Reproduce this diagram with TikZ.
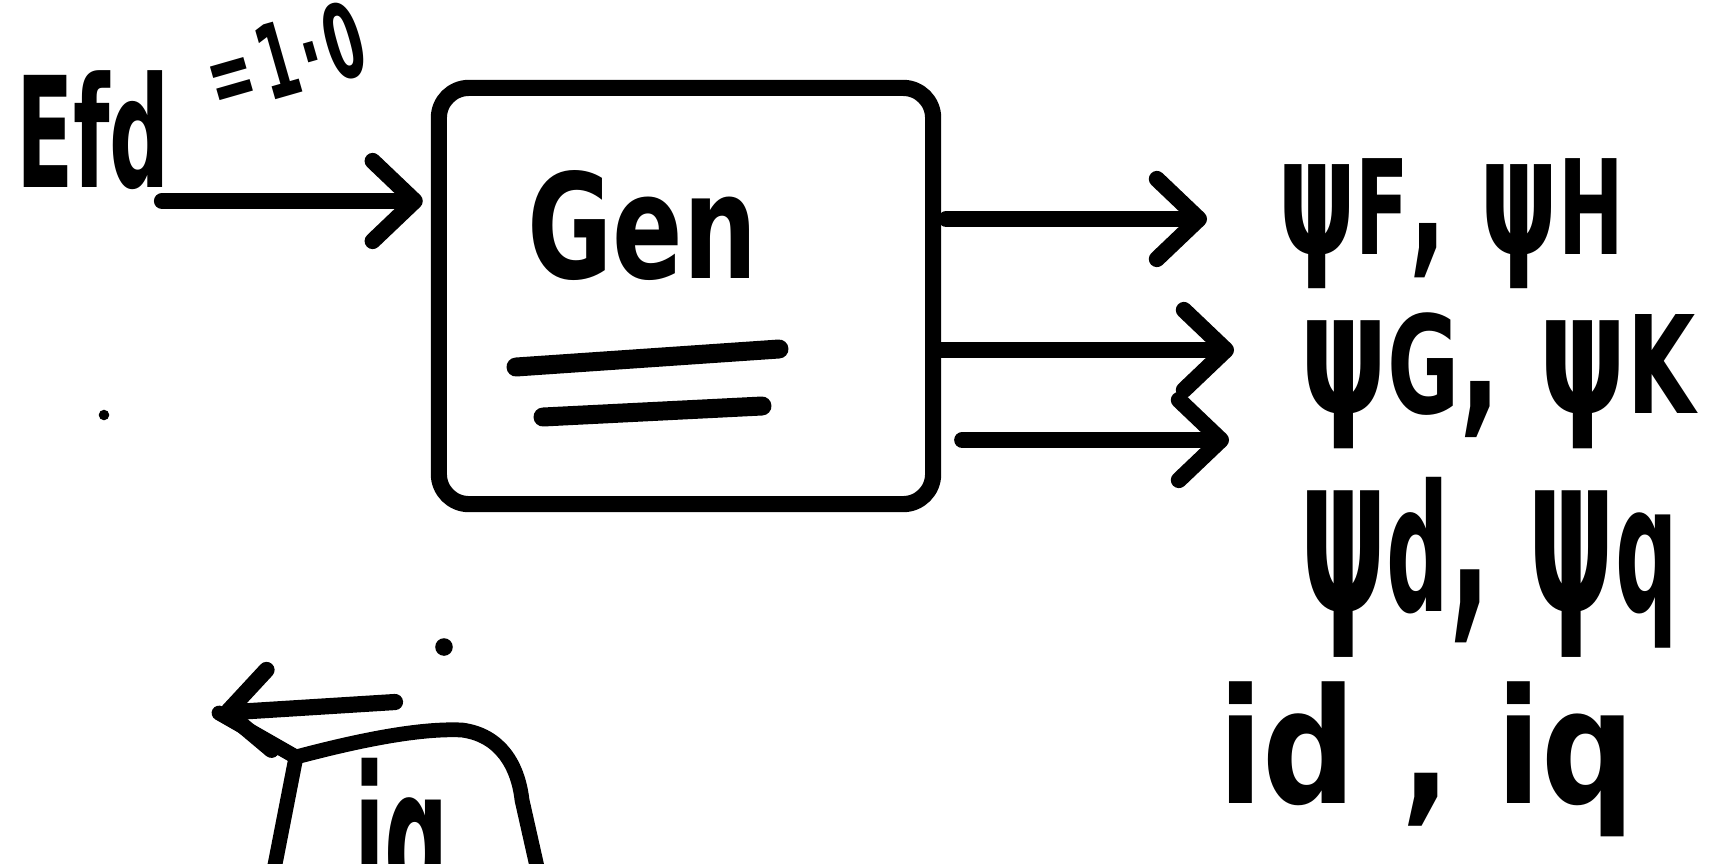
\documentclass[tikz,border=0pt]{standalone}
\usepackage{fontspec}
\setmainfont{DejaVu Sans}
\usetikzlibrary{arrows.meta,calc}
\newcommand\lo[1]{\scalebox{0.8}{#1}}
\begin{document}
\begin{tikzpicture}[x=0.01cm,y=-0.01cm, line cap=round, line join=round,
  ink/.style={line width=4.6pt},
  arr/.style={ink,-{Straight Barb[length=0.42cm,width=0.8cm,round]}},
  hand/.style={inner sep=0pt, outer sep=0pt, anchor=north west},
  genbox/.style={draw, ink, rounded corners=0.3cm, minimum width=4.94cm, minimum height=4.16cm, inner sep=0pt},
  bar/.style={line width=5.4pt},
  loopline/.style={line width=4.2pt}]
\useasboundingbox[fill=white] (0,0) rectangle (1720,863);

% input
\node[hand] (efd) at (16,71) {\resizebox*{1.54cm}{1.19cm}{\bfseries Efd}};
\node[inner sep=0pt, rotate=16] (val) at (285,58) {\resizebox*{1.6cm}{0.78cm}{\bfseries =\kern0.12em1\kern0.08em·\kern0.08em0}};

% generator block
\node[genbox] (gen) at (686,296) {};
\node[hand] (gentxt) at (527,170) {\resizebox*{2.3cm}{1.1cm}{\bfseries Gen}};
\draw[bar] (516,367) -- (779,349);
\draw[bar] (543,417) -- (762,406);

\coordinate (ein) at (162,201);
\draw[arr] (ein) -- ($(ein -| gen.west)+(-8,0)$);

% outputs
\coordinate (o1) at (1207,219);
\coordinate (o2) at (1234,350);
\coordinate (o3) at (1229,440);
\draw[arr] ($(gen.east |- o1)+(5,0)$) -- (o1);
\draw[arr] ($(gen.east |- o2)+(-6,0)$) -- (o2);
\draw[arr] ($(gen.east |- o3)+(21,0)$) -- (o3);

\node[hand] (l1) at (1278,159) {\resizebox*{3.46cm}{1.3cm}{\bfseries ψ\lo{F}, ψ\lo{H}}};
\node[hand] (l2) at (1300,313) {\resizebox*{3.95cm}{1.36cm}{\bfseries ψ\lo{G}, ψ\lo{K}}};
\node[hand] (l3) at (1300,477) {\resizebox*{3.78cm}{1.8cm}{\bfseries ψ\lo{d}, ψ\lo{q}}};
\node[hand] (l4) at (1218,682) {\resizebox*{4.17cm}{1.55cm}{\bfseries id , iq}};

% bottom-left feedback
\coordinate (fbtail) at (395,702);
\coordinate (fbtip) at (219,713);
\coordinate (junc) at (296,757);
\draw[arr] (fbtail) -- (fbtip);
\draw[loopline] (fbtip) -- (junc);
\draw[loopline] (junc) -- (272,880);
\draw[loopline] (junc) .. controls (360,740) and (420,728) .. (462,730)
  .. controls (500,735) and (518,765) .. (522,800) -- (540,880);
\node[hand] (ibot) at (354,758) {\resizebox*{0.95cm}{1.9cm}{\bfseries iq}};

% specks
\fill (104,415) circle (1.5pt);
\fill (444,647) circle (2.5pt);
\end{tikzpicture}
\end{document}
